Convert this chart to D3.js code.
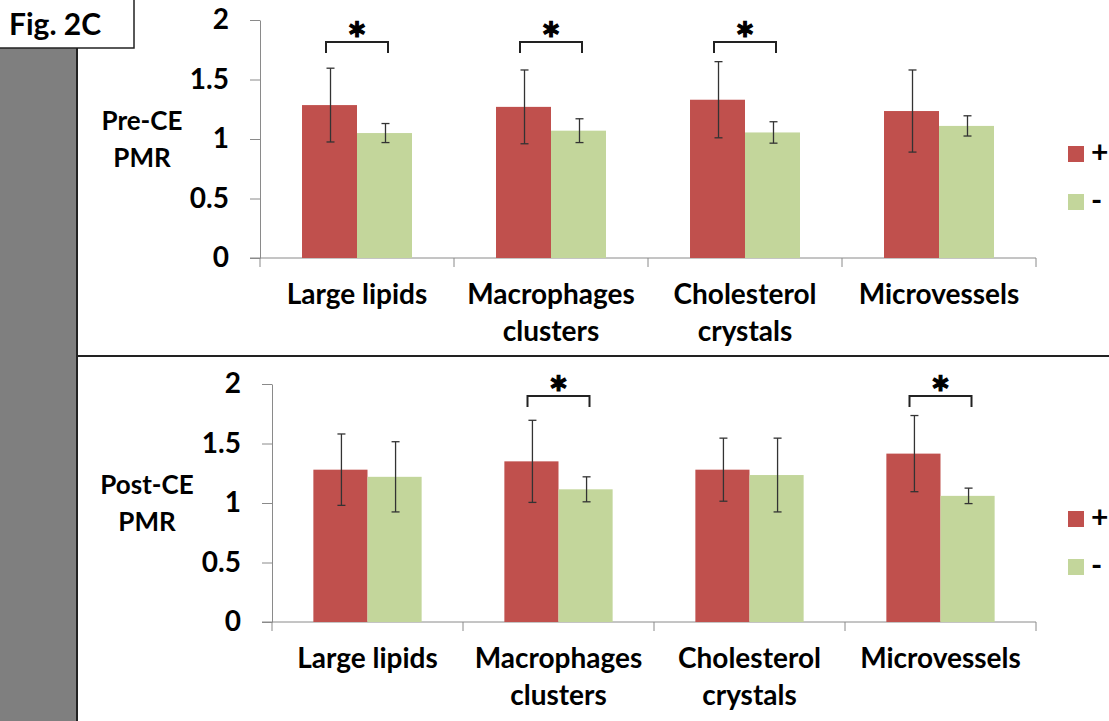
<!DOCTYPE html>
<html>
<head>
<meta charset="utf-8">
<script src="https://cdn.jsdelivr.net/npm/d3@7"></script>
<style>
  html, body { margin: 0; padding: 0; background: #fff; }
  svg { display: block; }
  text { font-family: Lato, "Open Sans", sans-serif; font-weight: bold; fill: #000; }
</style>
</head>
<body>
<svg id="chart" width="1109" height="721"></svg>
<script>
// ---------------- data ----------------
const categories = ["Large lipids", "Macrophages clusters", "Cholesterol crystals", "Microvessels"];
const categoryLines = [["Large lipids"], ["Macrophages", "clusters"], ["Cholesterol", "crystals"], ["Microvessels"]];
const seriesNames = ["+", "-"];
const seriesColors = ["#C0504D", "#C3D69B"];

const preMeanPlus  = [1.285, 1.27, 1.33, 1.235];
const preSdPlus    = [0.31, 0.31, 0.32, 0.345];
const preMeanMinus = [1.05, 1.07, 1.055, 1.11];
const preSdMinus   = [0.08, 0.10, 0.09, 0.085];
const preSignificant = [true, true, true, false];

const postMeanPlus  = [1.28, 1.35, 1.28, 1.415];
const postSdPlus    = [0.30, 0.345, 0.265, 0.32];
const postMeanMinus = [1.22, 1.115, 1.235, 1.06];
const postSdMinus   = [0.295, 0.105, 0.31, 0.065];
const postSignificant = [false, true, false, true];

const yTicks = [0, 0.5, 1, 1.5, 2];
const yTickLabels = ["0", "0.5", "1", "1.5", "2"];
const panelLabels = [["Pre-CE", "PMR"], ["Post-CE", "PMR"]];
const figLabel = "Fig. 2C";

// ---------------- drawing ----------------
const svg = d3.select("#chart");

// left grey strip and figure label box
svg.append("rect").attr("x", 0).attr("y", 48).attr("width", 77).attr("height", 721 - 48).attr("fill", "#7F7F7F");
svg.append("line").attr("x1", 77).attr("x2", 77).attr("y1", 48).attr("y2", 721).attr("stroke", "#222").attr("stroke-width", 2);
svg.append("rect").attr("x", -2).attr("y", -2).attr("width", 136).attr("height", 50)
  .attr("fill", "#fff").attr("stroke", "#222").attr("stroke-width", 1.5);
svg.append("text").attr("x", 9).attr("y", 35).attr("font-size", 30).text(figLabel);

// divider
svg.append("line").attr("x1", 77).attr("x2", 1109).attr("y1", 356).attr("y2", 356).attr("stroke", "#222").attr("stroke-width", 2);

function drawPanel(cfg) {
  const g = svg.append("g");
  const y = d3.scaleLinear().domain([0, 2]).range([cfg.y0, cfg.y0 - 238]);
  const x = d3.scaleBand().domain(categories).range([cfg.x0, 1036]).paddingInner(0).paddingOuter(0);
  const xs = d3.scaleBand().domain(seriesNames).range([0, x.bandwidth()]).paddingInner(0).paddingOuter(0.764);
  const axisColor = "#8A8A8A";

  // y axis
  const yAxis = d3.axisLeft(y).tickValues(yTicks).tickFormat((d, i) => yTickLabels[i]).tickSizeOuter(0).tickSizeInner(10).tickPadding(21);
  const ya = g.append("g").attr("transform", `translate(${cfg.x0},0)`).call(yAxis);
  ya.select(".domain").attr("stroke", axisColor);
  ya.selectAll(".tick line").attr("stroke", axisColor);
  ya.selectAll(".tick text").attr("font-size", 28).attr("font-family", "Lato").attr("font-weight", "bold").attr("fill", "#000");

  // x axis: ticks at category boundaries
  const xa = g.append("g");
  xa.append("line").attr("x1", cfg.x0 - 10).attr("x2", 1036).attr("y1", y(0)).attr("y2", y(0)).attr("stroke", axisColor);
  const bounds = categories.map(c => x(c)).concat([x(categories[3]) + x.bandwidth()]);
  xa.selectAll("line.tk").data(bounds).join("line").attr("class", "tk")
    .attr("x1", d => d).attr("x2", d => d).attr("y1", y(0)).attr("y2", y(0) + 9).attr("stroke", axisColor);

  // category labels
  categories.forEach((c, i) => {
    const t = g.append("text").attr("text-anchor", "middle").attr("font-size", 28)
      .attr("x", x(c) + x.bandwidth() / 2).attr("y", y(0) + 46);
    categoryLines[i].forEach((ln, k) => {
      t.append("tspan").attr("x", x(c) + x.bandwidth() / 2).attr("dy", k === 0 ? 0 : 37).text(ln);
    });
  });

  const means = [cfg.meanPlus, cfg.meanMinus];
  const sds = [cfg.sdPlus, cfg.sdMinus];
  // bars
  seriesNames.forEach((s, si) => {
    g.selectAll(null).data(categories).join("rect")
      .attr("x", c => x(c) + xs(s))
      .attr("width", xs.bandwidth())
      .attr("y", (c, i) => y(means[si][i]))
      .attr("height", (c, i) => y(0) - y(means[si][i]))
      .attr("fill", seriesColors[si]);
  });
  // error bars
  seriesNames.forEach((s, si) => {
    categories.forEach((c, i) => {
      const cx = x(c) + xs(s) + xs.bandwidth() / 2 + 1;
      const hi = y(means[si][i] + sds[si][i]);
      const lo = y(means[si][i] - sds[si][i]);
      const eg = g.append("g").attr("stroke", "#333").attr("stroke-width", 1.3);
      eg.append("line").attr("x1", cx).attr("x2", cx).attr("y1", hi).attr("y2", lo);
      eg.append("line").attr("x1", cx - 4).attr("x2", cx + 4).attr("y1", hi).attr("y2", hi);
      eg.append("line").attr("x1", cx - 4).attr("x2", cx + 4).attr("y1", lo).attr("y2", lo);
    });
  });
  // significance brackets
  categories.forEach((c, i) => {
    if (!cfg.sig[i]) return;
    const cx = x(c) + x.bandwidth() / 2;
    const by = y(cfg.bracketLevel);
    g.append("path")
      .attr("d", `M${cx - 31},${by + 11}V${by}H${cx + 31}V${by + 11}`)
      .attr("fill", "none").attr("stroke", "#222").attr("stroke-width", 2);
    g.append("text").attr("text-anchor", "middle").attr("font-size", 46)
      .attr("stroke", "#000").attr("stroke-width", 1.2)
      .attr("x", cx).attr("y", by + 14).text("*");
  });

  // legend
  seriesNames.forEach((s, si) => {
    const ly = cfg.legendY + si * 48;
    g.append("rect").attr("x", 1068).attr("y", ly).attr("width", 16).attr("height", 16).attr("fill", seriesColors[si]);
    g.append("text").attr("x", 1091).attr("y", ly + 17).attr("font-size", 30).text(s);
  });

  // panel label
  const lt = g.append("text").attr("text-anchor", "middle").attr("font-size", 26).attr("x", cfg.labelX).attr("y", y(1) - 9);
  cfg.label.forEach((ln, k) => lt.append("tspan").attr("x", cfg.labelX).attr("dy", k === 0 ? 0 : 37).text(ln));
}

drawPanel({ x0: 260, y0: 258, meanPlus: preMeanPlus, sdPlus: preSdPlus, meanMinus: preMeanMinus, sdMinus: preSdMinus,
  sig: preSignificant, bracketLevel: 1.815, legendY: 146, label: panelLabels[0], labelX: 142 });
drawPanel({ x0: 272, y0: 622, meanPlus: postMeanPlus, sdPlus: postSdPlus, meanMinus: postMeanMinus, sdMinus: postSdMinus,
  sig: postSignificant, bracketLevel: 1.90, legendY: 511, label: panelLabels[1], labelX: 147 });
</script>
</body>
</html>
